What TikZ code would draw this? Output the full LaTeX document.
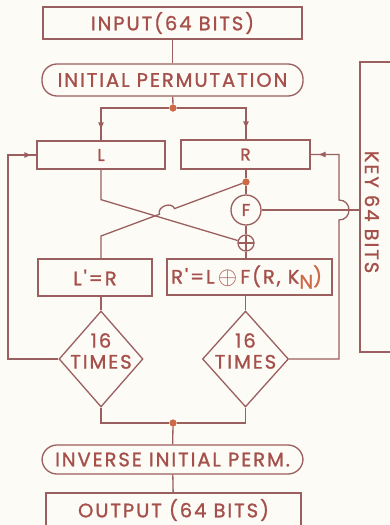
\documentclass[tikz,border=0pt]{standalone}
\usepackage{fontspec}
\newfontfamily\dfont{Poppins}[LetterSpace=10,FakeBold=1.2]
\usetikzlibrary{shapes.geometric,decorations.markings,arrows.meta}
\definecolor{lncol}{RGB}{155,95,95}
\definecolor{txcol}{RGB}{165,80,75}
\definecolor{dotcol}{RGB}{205,105,70}
\definecolor{bgcol}{RGB}{252,251,246}
\begin{document}
\begin{tikzpicture}[x=1pt,y=-1pt,
  txt/.style={font=\dfont\fontsize{19.5}{21}\selectfont, text=txcol},
  box/.style={txt, draw=lncol, line width=1.3pt, inner sep=0pt},
  pill/.style={box, rounded corners=15pt},
  wire/.style={draw=lncol, color=lncol, line width=1.3pt},
  jdot/.style={circle, fill=dotcol, inner sep=0pt, minimum size=7pt},
  tipat/.style={decoration={markings, mark=at position #1 with {\arrow{Latex[length=8pt,width=6pt]}}}, postaction={decorate}},
  dia/.style={box, diamond, minimum width=84pt, minimum height=96pt}
]
\fill[bgcol] (0,0) rectangle (389,525);
\useasboundingbox (0,0) rectangle (389,525);

% nodes
\node[box, minimum width=259pt, minimum height=32pt] (in) at (172.5,23) {INPUT(64 BITS)};
\node[pill, minimum width=261pt, minimum height=32pt] (ip) at (172.5,80) {INITIAL PERMUTATION};
\node[jdot] (dot1) at (173,108) {};
\node[box, minimum width=128pt, minimum height=28pt, font=\dfont\fontsize{17}{18}\selectfont] (L) at (101,155) {L};
\node[box, minimum width=129pt, minimum height=29pt, font=\dfont\fontsize{17}{18}\selectfont] (R) at (245.5,154.5) {R};
\node[jdot] (dot2) at (246,182) {};
\node[box, circle, minimum size=30pt, font=\dfont\fontsize{17}{18}\selectfont] (F) at (246,210) {F};
\node[draw=lncol, line width=1.3pt, circle, minimum size=16pt, inner sep=0pt,
  path picture={\draw[lncol, line width=1.3pt] (path picture bounding box.north) -- (path picture bounding box.south) (path picture bounding box.west) -- (path picture bounding box.east);}] (xor) at (246,243) {};
\node[box, minimum width=114pt, minimum height=37pt] (Lp) at (95,277.5) {L'=R};
\node[box, minimum width=165pt, minimum height=36pt] (Rp) at (249.5,277) {};
\node[txt, anchor=west, inner sep=0pt] (Rptext) at (171,277) {R'=L\,\raisebox{-1pt}{\fontsize{24}{24}\selectfont$\oplus$}\,F(R, K\raisebox{-5pt}{\textcolor{dotcol}{N}}\textcolor{dotcol}{)}};
\node[dia, label={[txt, align=center, yshift=8pt]center:16\\TIMES}] (d1) at (101,359) {};
\node[dia, minimum width=86pt, label={[txt, align=center, yshift=8pt]center:16\\TIMES}] (d2) at (245.5,359) {};
\node[jdot] (dot3) at (173,423) {};
\node[pill, minimum width=261pt, minimum height=29pt] (iip) at (172.5,459.5) {INVERSE INITIAL PERM.};
\node[box, minimum width=255pt, minimum height=34pt] (out) at (173.5,510) {OUTPUT (64 BITS)};
\node[box, minimum width=50pt, minimum height=290pt] (key) at (385,207) {};
\node[txt, rotate=-90] (keytext) at (372,212) {KEY 64 BITS};

% connectors
\draw[wire] (in) -- (ip);
\draw[wire] (ip) -- (dot1);
\draw[wire, tipat=-10pt] (dot1) -| (L.north);
\draw[wire, tipat=-10pt] (dot1) -| (R.north -| dot2);
\draw[wire] (R.south -| dot2) -- (dot2);
\draw[wire] (dot2) -- (F);
\draw[wire] (F) -- (xor);
\draw[wire] (xor) -- (xor |- Rp.north);
\draw[wire] (F) -- (F -| key.west);
% crossing
\draw[wire] (L.south) -- ++(0,30) -- (xor);
\draw[wire] (dot2) -- (174.5,208.6) .. controls (171.7,201.1) and (156.7,206.7) .. (159.5,214.2) -- (101,236) -- (Lp.north -| L.south);
% down to diamonds
\draw[wire] (Lp.south -| d1.north) -- (d1.north);
\draw[wire] (Rp.south -| d2.north) -- (d2.north);
% feedback loops
\draw[wire, tipat=-4pt] (d1.west) -- (8,359) |- (L.west);
\draw[wire, tipat=-7pt] (d2.east) -- (339,359) -- (339,220) .. controls (352.3,220) and (352.3,200) .. (339,200) |- (R.east);
% merge
\draw[wire] (d1.south) |- (dot3) -| (d2.south);
\draw[wire] (dot3) -- (iip);
\draw[wire] (iip) -- (out);
% redraw dots on top
\node[jdot] at (dot1) {};
\node[jdot] at (dot2) {};
\node[jdot] at (dot3) {};
\end{tikzpicture}
\end{document}
